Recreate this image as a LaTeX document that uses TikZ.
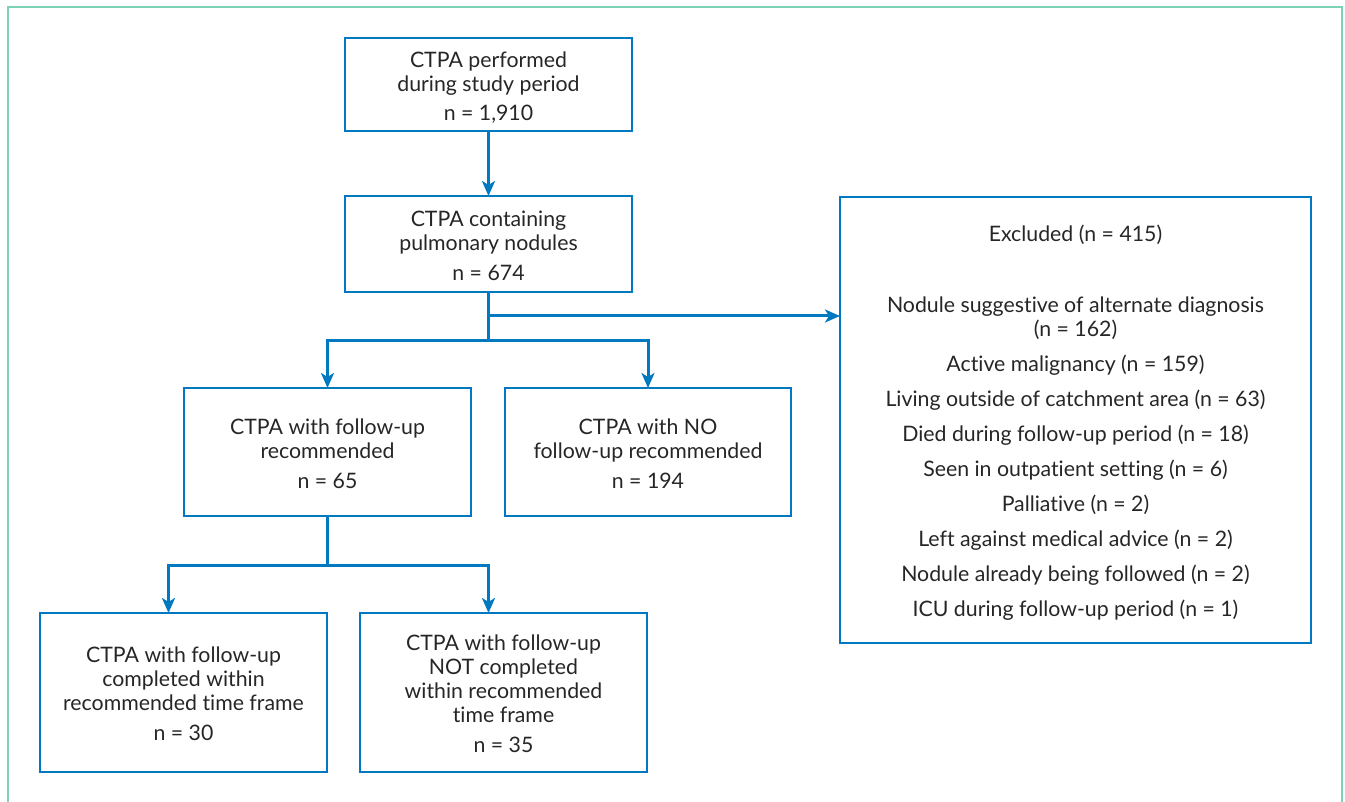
\documentclass[tikz,border=0pt]{standalone}
\usepackage{fontspec}
\setmainfont{Lato}[Ligatures=NoCommon]
\usetikzlibrary{arrows.meta}
\definecolor{boxblue}{RGB}{0,121,193}
\definecolor{framegreen}{RGB}{125,210,180}
\newcommand\tstrut{\rule{0pt}{23.5pt}}
\newcommand\bstrut{\rule[-5pt]{0pt}{0pt}}
\tikzset{
  box/.style={draw=boxblue, line width=1.8pt, inner sep=0pt, outer sep=0pt,
    align=center, font=\fontsize{21.3}{24}\selectfont, text=black!85},
  conn/.style={draw=boxblue, line width=3pt, line join=miter},
  arr/.style={conn, -{Stealth[length=15pt,width=13pt,inset=4pt]}},
}
\begin{document}
\begin{tikzpicture}[x=1pt,y=-1pt]
\useasboundingbox (0,0) rectangle (1345,802);
\draw[framegreen, line width=2pt] (8,802) -- (8,7) -- (1342,7) -- (1342,802);

\node[box, minimum width=287pt, minimum height=93pt] (b1) at (488.5,84.5)
  {\tstrut CTPA performed\\during study period\\[5pt]n = 1,910\bstrut};
\node[box, minimum width=287pt, minimum height=96pt] (b2) at (488.5,244)
  {\tstrut CTPA containing\\pulmonary nodules\\[6pt]n = 674\bstrut};
\node[box, minimum width=287pt, minimum height=128pt] (b3) at (327.5,452)
  {\tstrut CTPA with follow-up\\recommended\\[6pt]n = 65\bstrut};
\node[box, minimum width=286pt, minimum height=128pt] (b4) at (648,452)
  {\tstrut CTPA with NO\\follow-up recommended\\[6pt]n = 194\bstrut};
\node[box, minimum width=287pt, minimum height=159pt] (b5) at (183.5,692.5)
  {\tstrut CTPA with follow-up\\completed within\\recommended time frame\\[6pt]n = 30\bstrut};
\node[box, minimum width=287pt, minimum height=159pt] (b6) at (503.5,692.5)
  {\tstrut CTPA with follow-up\\NOT completed\\within recommended\\time frame\\[6pt]n = 35\bstrut};
\node[box, minimum width=471pt, minimum height=446pt] (ex) at (1075.5,420)
  {\tstrut Excluded (n = 415)\\[47pt]
   Nodule suggestive of alternate diagnosis\\(n = 162)\\[11pt]
   Active malignancy (n = 159)\\[11pt]
   Living outside of catchment area (n = 63)\\[11pt]
   Died during follow-up period (n = 18)\\[11pt]
   Seen in outpatient setting (n = 6)\\[11pt]
   Palliative (n = 2)\\[11pt]
   Left against medical advice (n = 2)\\[11pt]
   Nodule already being followed (n = 2)\\[11pt]
   ICU during follow-up period (n = 1)\bstrut};

\coordinate (s1) at (488.5,316);
\coordinate (s2) at (488.5,341);
\coordinate (s3) at (327.5,565);

\draw[arr] (b1.south) -- (b2.north);
\draw[conn] (b2.south) -- (s2);
\draw[arr] (s1) -- (s1 -| ex.west);
\draw[arr] (s2) -| (b3.north);
\draw[arr] (s2) -| (b4.north);
\draw[conn] (b3.south) -- (s3);
\draw[arr] (s3) -| ([xshift=-15pt]b5.north);
\draw[arr] (s3) -| ([xshift=-15pt]b6.north);
\end{tikzpicture}
\end{document}
